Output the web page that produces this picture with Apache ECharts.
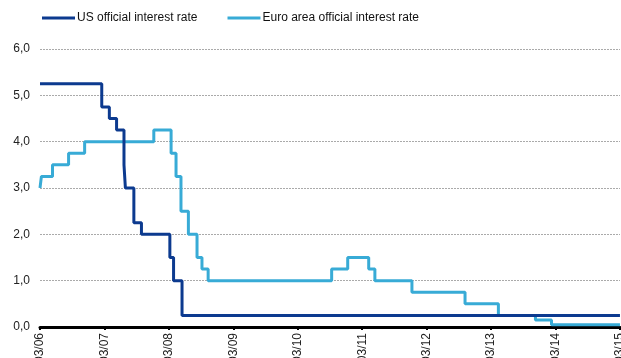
<!DOCTYPE html>
<html>
<head>
<meta charset="utf-8">
<script src="https://cdn.jsdelivr.net/npm/echarts@6/dist/echarts.min.js"></script>
<style>html,body{margin:0;padding:0;background:#fff}#c{width:621px;height:358px}</style>
</head>
<body>
<div id="c"></div>
<script>
const startDate = '2006-10-03';
const xTickLabels = ['10/03/06','10/03/07','10/03/08','10/03/09','10/03/10','10/03/11','10/03/12','10/03/13','10/03/14','10/03/15'];
const yTickLabels = ['0,0','1,0','2,0','3,0','4,0','5,0','6,0'];

const usDates = ['2006-10-03','2007-09-18','2007-10-31','2007-12-11','2008-01-22','2008-01-30','2008-03-18','2008-04-30','2008-10-08','2008-10-29','2008-12-16','2015-10-03'];
const usRates = [5.25,4.75,4.50,4.25,3.50,3.00,2.25,2.00,1.50,1.00,0.25,0.25];

const euDates = ['2006-10-03','2006-10-11','2006-12-13','2007-03-14','2007-06-13','2008-07-09','2008-10-15','2008-11-12','2008-12-10','2009-01-21','2009-03-11','2009-04-08','2009-05-13','2011-04-13','2011-07-13','2011-11-09','2011-12-14','2012-07-11','2013-05-08','2013-11-13','2014-06-11','2014-09-10','2015-10-03'];
const euRates = [3.00,3.25,3.50,3.75,4.00,4.25,3.75,3.25,2.50,2.00,1.50,1.25,1.00,1.25,1.50,1.25,1.00,0.75,0.50,0.25,0.15,0.05,0.05];

const t0 = Date.parse(startDate);
const toYears = d => (Date.parse(d) - t0) / (365.25 * 86400000);
const usData = usDates.map((d, i) => [toYears(d), usRates[i]]);
const euData = euDates.map((d, i) => [toYears(d), euRates[i]]);

const chart = echarts.init(document.getElementById('c'), null, {renderer: 'canvas'});
chart.setOption({
  animation: false,
  textStyle: {fontFamily: 'Liberation Sans, Arial, sans-serif'},
  legend: {
    top: 7, left: 37,
    itemWidth: 33, itemHeight: 3, itemGap: 30,
    icon: 'rect',
    textStyle: {fontSize: 12, color: '#111', padding: [0,0,0,-3]},
    data: ['US official interest rate', 'Euro area official interest rate']
  },
  grid: {left: 40, right: 1, top: 49, bottom: 31, containLabel: false, outerBoundsMode: 'none'},
  xAxis: {
    type: 'value', min: 0, max: 9, interval: 1,
    axisLine: {show: true, onZero: true, lineStyle: {color: '#000', width: 3}},
    axisTick: {show: true, length: 3, lineStyle: {color: '#000', width: 2}},
    splitLine: {show: false},
    axisLabel: {
      rotate: 90, fontSize: 12, color: '#222', margin: 6,
      formatter: v => xTickLabels[Math.round(v)] || ''
    }
  },
  yAxis: {
    type: 'value', min: 0, max: 6, interval: 1,
    axisLine: {show: false}, axisTick: {show: false},
    splitLine: {show: true, lineStyle: {color: '#aaaaaa', type: [2,1], width: 1}},
    axisLabel: {fontSize: 12, color: '#222', margin: 10, formatter: v => yTickLabels[Math.round(v)]}
  },
  series: [
    {name: 'US official interest rate', type: 'line', step: 'end', data: usData, showSymbol: false,
     color: '#0c3a8f', lineStyle: {width: 3, color: '#0c3a8f'}, z: 3},
    {name: 'Euro area official interest rate', type: 'line', step: 'end', data: euData, showSymbol: false,
     color: '#38abd6', lineStyle: {width: 3, color: '#38abd6'}, z: 2}
  ]
});
</script>
</body>
</html>
